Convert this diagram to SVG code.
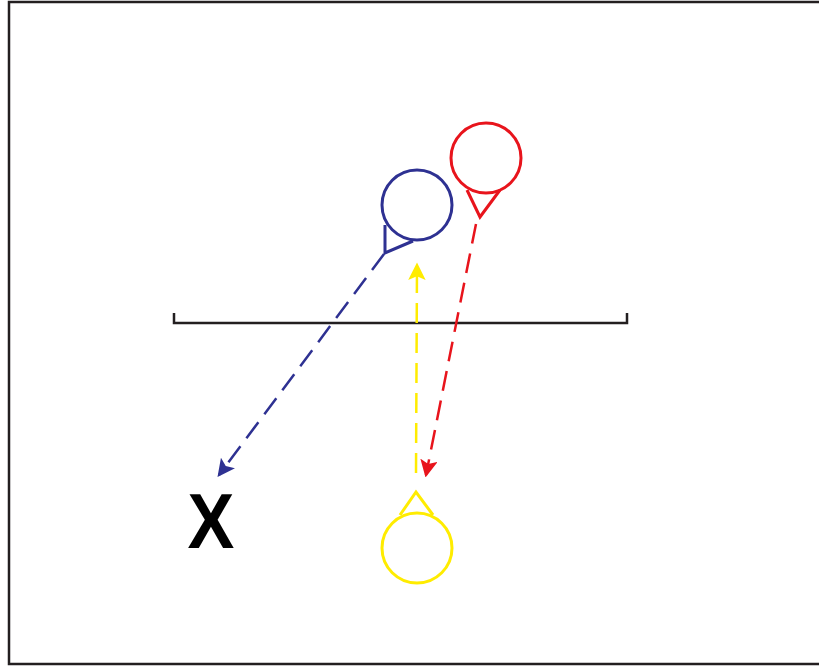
<svg xmlns="http://www.w3.org/2000/svg" width="819" height="668" viewBox="0 0 819 668">
<style>
.bd{fill:none;stroke:#231f20;stroke-width:2.5}
.pl{fill:none;stroke-width:3}
.b{stroke:#2e3192}.r{stroke:#e8141c}.y{stroke:#ffec00}
.dash{fill:none;stroke-width:2.5;stroke-dasharray:20 10}
.lbl{font-family:"Liberation Sans",Arial,sans-serif;font-weight:bold;font-size:78px;fill:#000}
</style>
<defs>
<marker id="ab" markerWidth="7" markerHeight="7" refX="6" refY="3.5" orient="auto" markerUnits="strokeWidth"><path d="M0,0 L7,3.5 L0,7 L1.5,3.5 Z" fill="#2e3192"/></marker>
<marker id="ar" markerWidth="7" markerHeight="7" refX="6" refY="3.5" orient="auto" markerUnits="strokeWidth"><path d="M0,0 L7,3.5 L0,7 L1.5,3.5 Z" fill="#e8141c"/></marker>
<marker id="ay" markerWidth="7" markerHeight="7" refX="6" refY="3.5" orient="auto" markerUnits="strokeWidth"><path d="M0,0 L7,3.5 L0,7 L1.5,3.5 Z" fill="#ffec00"/></marker>
</defs>
<rect x="0" y="0" width="819" height="668" fill="#fff"/>
<rect class="bd" x="9" y="2" width="820" height="662"/>
<g id="bracket"><path class="bd" d="M174,313 V323 H627 V313"/></g>
<g id="connectors">
<path class="dash b" d="M384,254 L219,475" marker-end="url(#ab)"/>
<path class="dash r" d="M476,224 L426,475" marker-end="url(#ar)"/>
<path class="dash y" d="M416,473 L417,265" marker-end="url(#ay)"/>
</g>
<g id="blue"><circle class="pl b" cx="417" cy="205" r="35"/><path class="pl b" d="M385,225 L385,253 L413,241"/></g>
<g id="red"><circle class="pl r" cx="486" cy="158" r="35"/><path class="pl r" d="M467,190 L480,217 L500,190"/></g>
<g id="yellow"><circle class="pl y" cx="417" cy="548" r="35"/><path class="pl y" d="M400,515 L416,492 L433,515"/></g>
<g id="x"><text class="lbl" x="211" y="548" text-anchor="middle" transform="translate(211,0) scale(0.9,1) translate(-211,0)">X</text></g>
</svg>
